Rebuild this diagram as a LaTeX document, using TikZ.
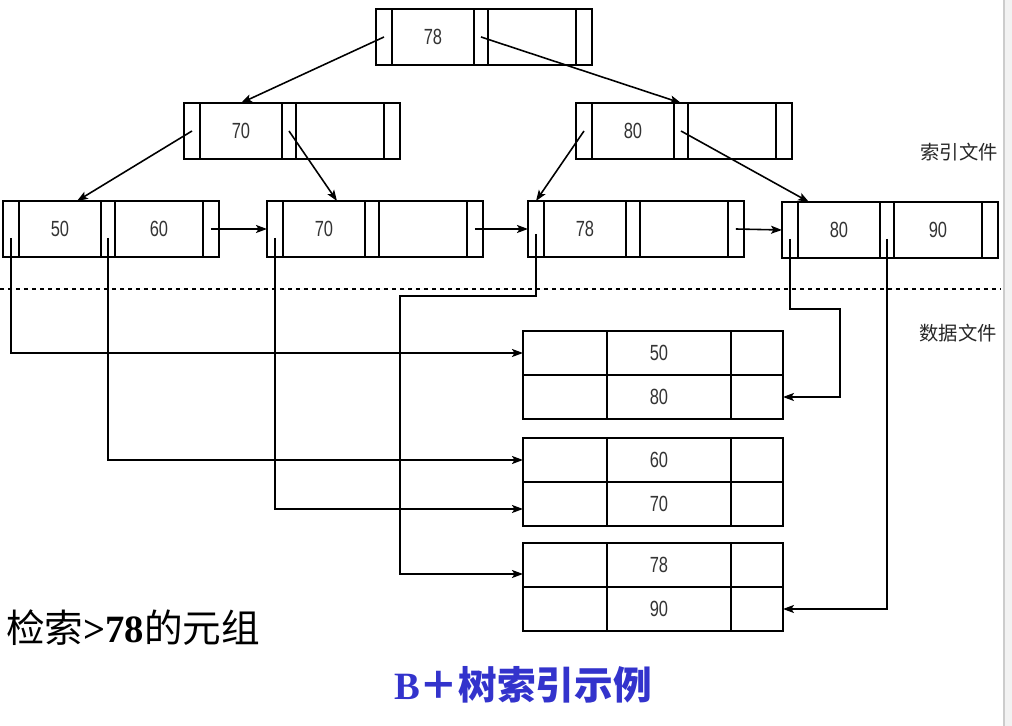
\documentclass[tikz,border=0pt]{standalone}
\usepackage{fontspec}
\usetikzlibrary{positioning,arrows.meta}

\newfontfamily\numfont[FakeStretch=0.75]{Liberation Sans}
\newfontfamily\cjkfont{Noto Sans CJK SC}
\newfontfamily\serfont{Liberation Serif}
\definecolor{titleblue}{RGB}{51,51,204}

% one index block: pointer, key, pointer, key, pointer
\newcommand{\idxnode}[5]{%
    \node [ptrcell, anchor=north west] (#1p0) at (#2,#3) {};
    \node [keycell, right=0pt of #1p0] (#1k1) {#4};
    \node [ptrcell, minimum width=0.28cm, right=0pt of #1k1] (#1p1) {};
    \node [keycell, minimum width=1.76cm, right=0pt of #1p1] (#1k2) {#5};
    \node [ptrcell, right=0pt of #1k2] (#1p2) {};
}

% one record of the data file
\newcommand{\recrow}[3]{%
    \node [reccell, minimum width=1.68cm, anchor=north west] (#1l) at (523,#2) {};
    \node [reccell, minimum width=2.48cm, right=0pt of #1l,
           label={[numtext, xshift=-0.2cm]center:#3}] (#1) {};
    \node [reccell, minimum width=1.04cm, right=0pt of #1] (#1r) {};
}

\begin{document}
\begin{tikzpicture}[x=0.02cm, y=-0.02cm,
    ptrcell/.style={draw, line width=1.1pt, inner sep=0pt, outer sep=0pt,
                    minimum width=0.32cm, minimum height=1.12cm},
    keycell/.style={ptrcell, minimum width=1.64cm, numtext},
    reccell/.style={draw, line width=1.1pt, inner sep=0pt, outer sep=0pt,
                    minimum height=0.88cm},
    numtext/.style={font=\fontsize{12.5}{14}\numfont, text=black!80},
    link/.style={line width=0.9pt,
                 -{Stealth[length=0.22cm, width=0.16cm, inset=0.05cm]}}]
    \useasboundingbox (0,0) rectangle (1012,726);
    \fill [black!5] (1004,0) rectangle (1012,726);
    \draw [black!20, line width=0.6pt] (1004,0) -- (1004,726);

    % index file
    \idxnode{root}{376}{9}{78}{}
    \idxnode{ml}{184}{103}{70}{}
    \idxnode{mr}{576}{103}{80}{}
    \idxnode{l1}{3}{201}{50}{60}
    \idxnode{l2}{267}{201}{70}{}
    \idxnode{l3}{528}{201}{78}{}
    \idxnode{l4}{782}{202}{80}{90}

    \draw [link] (rootp0.center) -- (mlk1.north);
    \draw [link] (rootp1.center) -- (mrp1.north);
    \draw [link] (mlp0.center) -- ([xshift=0.34cm]l1k1.north);
    \draw [link] (mlp1.center) -- ([xshift=0.26cm]l2k1.north);
    \draw [link] (mrp0.center) -- (l3p0.north);
    \draw [link] (mrp1.center) -- ([xshift=0.22cm]l4k1.north west);

    \draw [link] (l1p2.center) -- (l2p0.west);
    \draw [link] (l2p2.center) -- (l3p0.west);
    \draw [link] (l3p2.center) -- (l4p0.west);

    \draw [line width=0.9pt, dash pattern=on 0.08cm off 0.08cm] (0,289) -- (1000,289);

    \node [font=\fontsize{11}{13}\cjkfont, text=black!85] (idxlabel) at (959,152) {索引文件};
    \node [font=\fontsize{11}{13}\cjkfont, text=black!85] (datlabel) at (958,333) {数据文件};

    % data file
    \recrow{r50}{331}{50}
    \recrow{r80}{375}{80}
    \recrow{r60}{438}{60}
    \recrow{r70}{482}{70}
    \recrow{r78}{543}{78}
    \recrow{r90}{587}{90}

    \coordinate (bend3) at (400,296);
    \coordinate (bend4) at (840,309);
    \draw [link] ([yshift=-0.18cm]l1p0.center) |- (r50l.west);
    \draw [link] ([yshift=-0.18cm]l1p1.center) |- (r60l.west);
    \draw [link] ([yshift=-0.18cm]l2p0.center) |- ([yshift=-0.1cm]r70l.west);
    \draw [link] ([yshift=-0.1cm]l3p0.center) |- (bend3) |- ([yshift=-0.18cm]r78l.west);
    \draw [link] ([yshift=-0.18cm]l4p0.center) |- (bend4) |- (r80r.east);
    \draw [link] ([yshift=-0.18cm]l4p1.center) |- (r90r.east);

    \node [anchor=west, font=\fontsize{22}{26}\cjkfont] (query) at (0,628)
        {检索{\serfont\bfseries >78}的元组};
    \node [font=\fontsize{22}{26}\cjkfont\bfseries, text=titleblue] (title) at (523,685)
        {{\serfont B}＋树索引示例};
\end{tikzpicture}
\end{document}
